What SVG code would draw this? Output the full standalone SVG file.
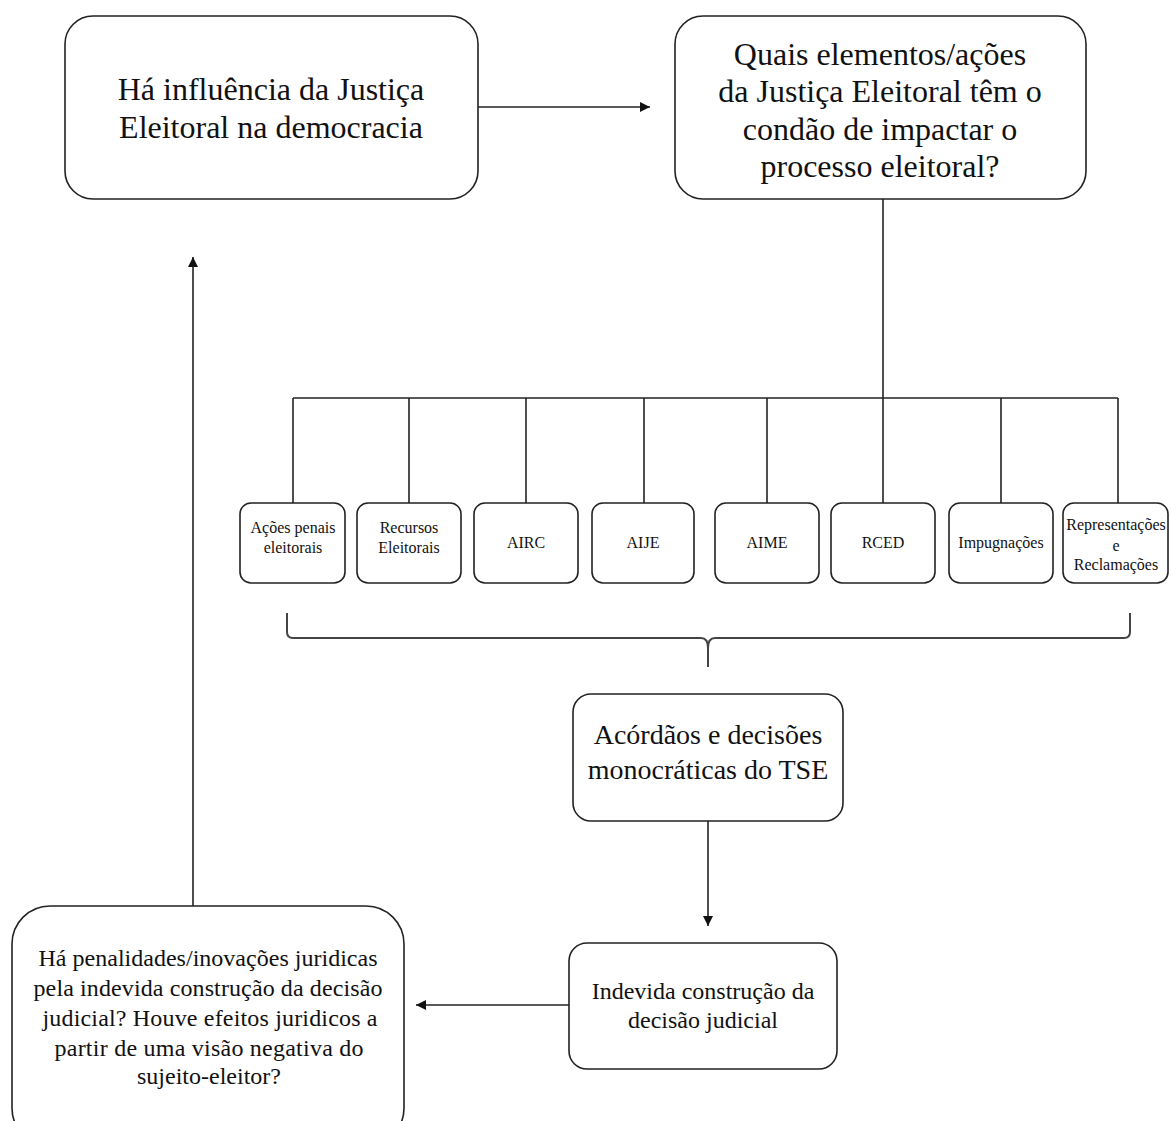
<svg xmlns="http://www.w3.org/2000/svg" width="1171" height="1121" viewBox="0 0 1171 1121">
<style>
.box{fill:#fff;stroke:#222;stroke-width:1.6}
.t{font-family:"Liberation Serif","Times New Roman",serif;fill:#111;text-anchor:middle}
.big{font-size:32px}
.mid{font-size:28px}
.sm{font-size:24px}
.xs{font-size:16px}
.c{fill:none;stroke:#222;stroke-width:1.6}
.br{fill:none;stroke:#444;stroke-width:2}
</style>
<defs>
<marker id="ah" viewBox="0 0 10 10" refX="10" refY="5" markerWidth="11" markerHeight="10" markerUnits="userSpaceOnUse" orient="auto">
<path d="M0,0 L10,5 L0,10 Z" fill="#111"/>
</marker>
</defs>
<rect width="1171" height="1121" fill="#fff"/>
<g id="connectors">
<line class="c" x1="478" y1="107" x2="650" y2="107" marker-end="url(#ah)"/>
<line class="c" x1="883" y1="199" x2="883" y2="398"/>
<line class="c" x1="293" y1="398" x2="1118" y2="398"/>
<line class="c" x1="293" y1="398" x2="293" y2="503"/>
<line class="c" x1="409" y1="398" x2="409" y2="503"/>
<line class="c" x1="526" y1="398" x2="526" y2="503"/>
<line class="c" x1="644" y1="398" x2="644" y2="503"/>
<line class="c" x1="767" y1="398" x2="767" y2="503"/>
<line class="c" x1="883" y1="398" x2="883" y2="503"/>
<line class="c" x1="1001" y1="398" x2="1001" y2="503"/>
<line class="c" x1="1118" y1="398" x2="1118" y2="503"/>
<path class="br" d="M287,613 L287,632 Q287,638 293,638 L701,638 Q708,638 708,648 L708,667 M708,648 Q708,638 715,638 L1124,638 Q1130,638 1130,632 L1130,613"/>
<line class="c" x1="708" y1="821" x2="708" y2="926" marker-end="url(#ah)"/>
<line class="c" x1="569" y1="1005" x2="416" y2="1005" marker-end="url(#ah)"/>
<line class="c" x1="193" y1="906" x2="193" y2="257" marker-end="url(#ah)"/>
</g>
<g id="n1">
<rect class="box" x="65" y="16" width="413" height="183" rx="28"/>
<text class="t big" x="271" y="100">Há influência da Justiça</text>
<text class="t big" x="271" y="138">Eleitoral na democracia</text>
</g>
<g id="n2">
<rect class="box" x="675" y="16" width="411" height="183" rx="28"/>
<text class="t big" x="880" y="65">Quais elementos/ações</text>
<text class="t big" x="880" y="102">da Justiça Eleitoral têm o</text>
<text class="t big" x="880" y="140">condão de impactar  o</text>
<text class="t big" x="880" y="177">processo  eleitoral?</text>
</g>
<g id="s1">
<rect class="box" x="240" y="503" width="105" height="80" rx="11"/>
<text class="t xs" x="293" y="533">Ações penais</text>
<text class="t xs" x="293" y="553">eleitorais</text>
</g>
<g id="s2">
<rect class="box" x="357" y="503" width="104" height="80" rx="11"/>
<text class="t xs" x="409" y="533">Recursos</text>
<text class="t xs" x="409" y="553">Eleitorais</text>
</g>
<g id="s3">
<rect class="box" x="474" y="503" width="104" height="80" rx="11"/>
<text class="t xs" x="526" y="548">AIRC</text>
</g>
<g id="s4">
<rect class="box" x="592" y="503" width="102" height="80" rx="11"/>
<text class="t xs" x="643" y="548">AIJE</text>
</g>
<g id="s5">
<rect class="box" x="715" y="503" width="104" height="80" rx="11"/>
<text class="t xs" x="767" y="548">AIME</text>
</g>
<g id="s6">
<rect class="box" x="831" y="503" width="104" height="80" rx="11"/>
<text class="t xs" x="883" y="548">RCED</text>
</g>
<g id="s7">
<rect class="box" x="949" y="503" width="104" height="80" rx="11"/>
<text class="t xs" x="1001" y="548">Impugnações</text>
</g>
<g id="s8">
<rect class="box" x="1063" y="503" width="105" height="80" rx="11"/>
<text class="t xs" x="1116" y="530">Representações</text>
<text class="t xs" x="1116" y="551">e</text>
<text class="t xs" x="1116" y="570">Reclamações</text>
</g>
<g id="n3">
<rect class="box" x="573" y="694" width="270" height="127" rx="18"/>
<text class="t mid" x="708" y="744">Acórdãos e decisões</text>
<text class="t mid" x="708" y="779">monocráticas do TSE</text>
</g>
<g id="n4">
<rect class="box" x="569" y="943" width="268" height="126" rx="18"/>
<text class="t sm" x="703" y="999">Indevida  construção  da</text>
<text class="t sm" x="703" y="1028">decisão  judicial</text>
</g>
<g id="n5">
<rect class="box" x="12" y="906" width="392" height="240" rx="38"/>
<text class="t sm" x="208" y="966" textLength="339" lengthAdjust="spacing">Há penalidades/inovações  juridicas</text>
<text class="t sm" x="208" y="996" textLength="349" lengthAdjust="spacing">pela indevida  construção  da decisão</text>
<text class="t sm" x="210" y="1026" textLength="335" lengthAdjust="spacing">judicial?  Houve  efeitos  juridicos  a</text>
<text class="t sm" x="209" y="1056" textLength="309" lengthAdjust="spacing">partir  de uma  visão  negativa  do</text>
<text class="t sm" x="209" y="1084">sujeito-eleitor?</text>
</g>
</svg>
